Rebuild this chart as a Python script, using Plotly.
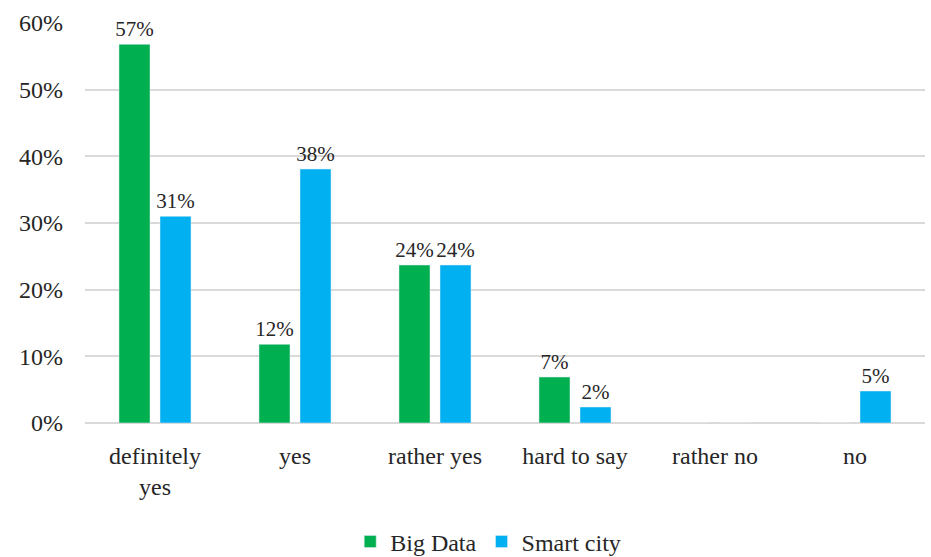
import plotly.graph_objects as go

categories = ["definitely<br>yes", "yes", "rather yes", "hard to say", "rather no", "no"]
big_data = [56.8, 11.8, 23.7, 6.9, 0, 0]
smart_city = [31.0, 38.1, 23.7, 2.4, 0, 4.8]
y_ticks = [0, 10, 20, 30, 40, 50, 60]
y_tick_labels = ["0%", "10%", "20%", "30%", "40%", "50%", "60%"]

def labels(vals):
    return [f"{round(v)}%" if v > 0 else "" for v in vals]

FONT = "Liberation Serif, Times New Roman, serif"
TXT = "#262626"

fig = go.Figure()
for name, vals, color in [("Big Data", big_data, "#00B050"), ("Smart city", smart_city, "#00B0F0")]:
    fig.add_trace(go.Bar(
        name=name, x=categories, y=vals, text=labels(vals),
        textposition="outside", marker_color=color, cliponaxis=False,
        textangle=0, constraintext="none",
        textfont=dict(family=FONT, size=21, color=TXT),
    ))

fig.update_layout(
    width=931, height=557,
    margin=dict(l=85, r=6, t=23, b=134, autoexpand=False),
    barmode="group", bargap=0.414, bargroupgap=0.244,
    plot_bgcolor="white", paper_bgcolor="white",
    font=dict(family=FONT, size=24, color=TXT),
    showlegend=True,
    legend=dict(orientation="h", x=0.48, xanchor="center",
                yref="container", y=0.027, yanchor="middle",
                font=dict(family=FONT, size=24, color=TXT),
                itemwidth=30, traceorder="normal"),
)
fig.update_yaxes(
    range=[0, 60], tickvals=y_ticks, ticktext=y_tick_labels,
    showgrid=True, gridcolor="#D9D9D9", gridwidth=1.5,
    zeroline=True, zerolinecolor="#D9D9D9", zerolinewidth=1.5,
    showline=False, ticks="", ticklabelstandoff=21, automargin=False,
    tickfont=dict(family=FONT, size=24, color=TXT),
)
fig.update_xaxes(
    showline=False, ticks="", ticklabelstandoff=16, automargin=False,
    tickfont=dict(family=FONT, size=24, color=TXT),
)

fig.write_html("out.html")
